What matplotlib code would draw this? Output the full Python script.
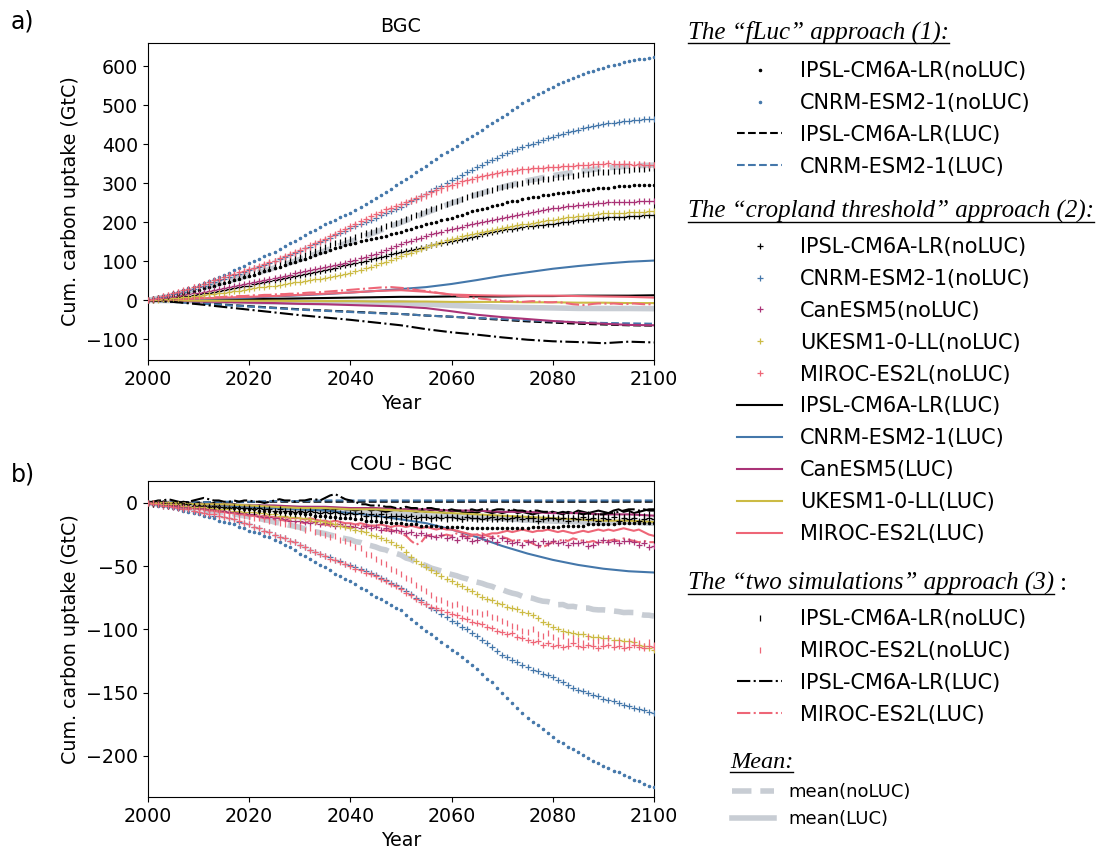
import numpy as np
import matplotlib
matplotlib.use("Agg")
import matplotlib.pyplot as plt
from matplotlib.lines import Line2D
from matplotlib.transforms import IdentityTransform

W, H = 1098, 852
YEARS = list(range(2000, 2101))
YEARS5 = list(range(2000, 2101, 5))

# ---------------- panel a) BGC : noLUC (yearly) ----------------
ipsl_fluc_noluc_bgc = [
    0, 2, 5, 7, 10, 12, 15, 18, 21, 24,
    27, 31, 34, 38, 41, 45, 48, 52, 55, 59,
    62, 66, 70, 74, 78, 82, 86, 90, 95, 99,
    103, 107, 112, 116, 121, 125, 129, 133, 137, 141,
    145, 148, 151, 154, 157, 160, 163, 166, 170, 173,
    176, 180, 184, 188, 191, 195, 198, 202, 205, 209,
    212, 216, 220, 224, 228, 232, 235, 238, 242, 245,
    248, 251, 254, 256, 259, 262, 264, 266, 269, 271,
    273, 275, 276, 278, 279, 281, 282, 284, 285, 287,
    288, 289, 290, 292, 293, 294, 295, 295, 296, 296,
    297]
cnrm_fluc_noluc_bgc = [
    0, 3, 7, 10, 14, 18, 22, 26, 31, 35,
    40, 45, 50, 55, 60, 65, 71, 77, 83, 89,
    95, 101, 107, 113, 119, 125, 132, 139, 146, 153,
    160, 167, 174, 181, 188, 195, 201, 207, 213, 219,
    225, 232, 240, 247, 255, 262, 270, 278, 286, 295,
    303, 311, 320, 328, 337, 345, 354, 363, 372, 380,
    388, 396, 405, 413, 422, 430, 438, 446, 454, 462,
    470, 479, 488, 497, 505, 514, 521, 528, 535, 541,
    548, 554, 559, 565, 570, 575, 580, 585, 589, 593,
    596, 600, 603, 607, 610, 613, 616, 618, 620, 622,
    625]
ipsl_crop_noluc_bgc = [
    0, 1, 3, 4, 6, 7, 9, 11, 12, 14,
    16, 18, 20, 22, 24, 26, 28, 31, 33, 36,
    38, 41, 44, 46, 49, 52, 55, 57, 60, 62,
    65, 68, 70, 73, 75, 78, 81, 84, 87, 90,
    93, 96, 99, 102, 105, 108, 111, 114, 118, 121,
    124, 127, 130, 132, 135, 138, 141, 144, 146, 149,
    152, 155, 158, 160, 163, 166, 169, 172, 174, 177,
    180, 182, 184, 186, 188, 190, 191, 193, 194, 196,
    197, 199, 200, 202, 203, 205, 206, 208, 209, 211,
    212, 213, 214, 214, 215, 216, 217, 217, 218, 218,
    219]
cnrm_crop_noluc_bgc = [
    0, 3, 6, 9, 12, 15, 18, 22, 26, 29,
    33, 37, 42, 46, 51, 55, 59, 64, 68, 73,
    77, 82, 86, 91, 95, 100, 105, 111, 116, 122,
    127, 133, 138, 144, 149, 155, 161, 167, 173, 179,
    185, 190, 196, 201, 207, 212, 218, 223, 229, 234,
    240, 247, 254, 260, 267, 274, 281, 288, 294, 301,
    308, 315, 322, 328, 335, 342, 348, 354, 360, 366,
    372, 377, 383, 388, 393, 398, 402, 407, 411, 416,
    420, 424, 427, 431, 434, 438, 441, 444, 447, 449,
    452, 454, 456, 458, 460, 461, 462, 463, 464, 464,
    465]
can_crop_noluc_bgc = [
    0, 2, 4, 5, 7, 9, 11, 13, 15, 18,
    20, 22, 25, 27, 30, 32, 35, 37, 40, 42,
    45, 48, 50, 53, 55, 58, 61, 63, 66, 69,
    72, 74, 77, 80, 82, 85, 88, 91, 94, 97,
    100, 104, 108, 112, 116, 120, 125, 130, 135, 140,
    145, 149, 153, 157, 161, 165, 169, 172, 176, 180,
    183, 186, 189, 192, 195, 198, 201, 204, 207, 209,
    212, 215, 217, 220, 222, 225, 227, 229, 232, 234,
    236, 238, 239, 241, 242, 244, 245, 246, 248, 249,
    250, 251, 251, 252, 252, 253, 253, 254, 254, 255,
    255]
uk_crop_noluc_bgc = [
    0, 1, 2, 3, 4, 5, 6, 8, 9, 11,
    12, 14, 15, 17, 18, 20, 22, 24, 25, 27,
    29, 31, 33, 34, 36, 38, 40, 42, 44, 46,
    48, 50, 52, 54, 56, 58, 60, 63, 65, 68,
    70, 74, 78, 82, 86, 90, 95, 99, 104, 108,
    113, 118, 122, 127, 131, 136, 141, 145, 150, 154,
    158, 161, 164, 167, 170, 173, 176, 178, 181, 183,
    186, 188, 190, 193, 195, 197, 199, 201, 203, 205,
    207, 209, 211, 213, 214, 216, 217, 219, 220, 222,
    223, 224, 224, 225, 225, 226, 226, 227, 227, 228,
    228]
miroc_crop_noluc_bgc = [
    0, 4, 7, 11, 14, 18, 22, 26, 30, 34,
    38, 42, 47, 51, 56, 60, 64, 68, 72, 76,
    80, 84, 89, 93, 98, 102, 108, 113, 119, 124,
    130, 135, 141, 147, 152, 158, 164, 171, 177, 184,
    190, 196, 203, 209, 216, 222, 227, 233, 238, 243,
    248, 253, 258, 262, 267, 272, 277, 282, 287, 292,
    297, 301, 305, 309, 312, 316, 319, 322, 325, 327,
    330, 332, 333, 335, 336, 338, 339, 340, 340, 341,
    342, 343, 344, 344, 345, 346, 347, 348, 349, 349,
    350, 351, 350, 349, 350, 349, 348, 349, 348, 347,
    347]
ipsl_two_noluc_bgc = [
    0, 3, 6, 9, 12, 15, 19, 22, 26, 29,
    33, 37, 41, 45, 48, 52, 56, 60, 64, 68,
    72, 76, 80, 84, 88, 92, 96, 100, 104, 108,
    112, 117, 122, 127, 132, 137, 141, 146, 150, 154,
    158, 163, 167, 172, 176, 180, 185, 190, 195, 199,
    204, 209, 214, 218, 223, 228, 233, 238, 243, 247,
    252, 256, 260, 265, 269, 273, 276, 280, 283, 287,
    290, 293, 295, 298, 300, 303, 305, 307, 310, 312,
    314, 316, 317, 319, 320, 322, 323, 325, 326, 328,
    329, 330, 331, 333, 334, 335, 336, 337, 338, 339,
    340]
miroc_two_noluc_bgc = [
    0, 3, 7, 10, 14, 17, 21, 25, 29, 33,
    37, 41, 45, 50, 54, 58, 62, 66, 70, 74,
    78, 82, 86, 91, 95, 100, 105, 110, 116, 121,
    127, 132, 138, 143, 149, 155, 161, 167, 174, 180,
    186, 193, 199, 206, 212, 218, 224, 229, 234, 239,
    244, 249, 254, 258, 263, 268, 273, 278, 283, 288,
    293, 297, 301, 305, 309, 312, 316, 319, 321, 324,
    326, 328, 330, 332, 333, 335, 336, 337, 338, 339,
    340, 341, 342, 343, 344, 345, 346, 347, 348, 349,
    349, 350, 351, 350, 351, 350, 349, 350, 349, 348,
    348]

# ---------------- panel a) BGC : LUC ----------------
ipsl_fluc_luc_bgc = [0, -3, -7, -11, -15, -19, -23, -26, -29, -32, -35, -39, -42, -46, -50, -54, -57, -60, -62, -64, -65]
cnrm_fluc_luc_bgc = [0, -4, -8, -12, -16, -20, -24, -27, -30, -33, -35, -39, -42, -45, -48, -51, -54, -56, -58, -59, -60]
ipsl_crop_luc_bgc = [0, 0, 1, 2, 3, 4, 5, 6, 7, 8, 9, 9, 10, 10, 10, 11, 11, 12, 12, 12, 13]
cnrm_crop_luc_bgc = [0, 1, 3, 5, 7, 10, 13, 16, 20, 24, 29, 34, 42, 52, 63, 72, 81, 88, 94, 99, 102]
can_crop_luc_bgc = [0, -1, -3, -4, -6, -7, -9, -10, -12, -14, -16, -20, -28, -37, -43, -48, -53, -57, -60, -63, -64]
uk_crop_luc_bgc = [0, 0, -1, -1, -1, -1, -2, -2, -2, -3, -3, -3, -4, -4, -4, -5, -5, -6, -6, -7, -7]
miroc_crop_luc_bgc = [0, 2, 5, 7, 9, 11, 14, 17, 20, 24, 26, 22, 15, 13, 12, 12, 12, 11, 10, 9, 7]
ipsl_two_luc_bgc = [0, -4, -10, -17, -24, -31, -38, -44, -50, -57, -64, -74, -82, -88, -95, -101, -105, -107, -110, -106, -108]
miroc_two_luc_bgc = [
    0, 1, 1, 2, 3, 3, 4, 4, 5, 6,
    6, 7, 7, 8, 8, 9, 10, 10, 11, 11,
    12, 13, 13, 14, 14, 15, 16, 16, 17, 17,
    18, 19, 20, 20, 21, 22, 23, 24, 25, 26,
    27, 28, 29, 30, 31, 32, 33, 33, 34, 33,
    32, 31, 29, 27, 25, 24, 22, 20, 18, 16,
    14, 12, 10, 9, 7, 6, 4, 3, 1, 0,
    -2, -3, -2, -3, -4, -3, -2, -3, -4, -5,
    -5, -4, -6, -8, -10, -11, -12, -11, -9, -8,
    -8, -9, -8, -9, -10, -9, -8, -9, -10, -10,
    -10]

# ---------------- panel b) COU - BGC : noLUC (yearly) ----------------
ipsl_fluc_noluc_cou = [
    0, 0, 0, -1, -1, -1, -1, -1, -2, -2,
    -2, -2, -3, -3, -3, -4, -4, -4, -4, -5,
    -5, -5, -6, -6, -6, -7, -7, -7, -8, -8,
    -8, -9, -9, -10, -10, -10, -11, -11, -12, -12,
    -12, -13, -13, -14, -14, -14, -15, -15, -16, -16,
    -16, -17, -17, -17, -18, -18, -18, -18, -19, -19,
    -19, -19, -19, -20, -20, -20, -20, -20, -20, -20,
    -20, -20, -20, -20, -20, -20, -19, -19, -19, -19,
    -19, -19, -18, -18, -18, -18, -18, -17, -17, -17,
    -17, -17, -17, -16, -16, -16, -16, -16, -16, -16,
    -16]
cnrm_fluc_noluc_cou = [
    0, -1, -2, -2, -3, -4, -5, -6, -7, -8,
    -9, -10, -11, -12, -14, -15, -16, -17, -19, -20,
    -22, -23, -24, -26, -27, -29, -31, -33, -35, -37,
    -40, -42, -44, -47, -49, -51, -53, -56, -58, -60,
    -62, -64, -67, -69, -72, -74, -76, -78, -81, -83,
    -85, -89, -92, -95, -98, -101, -104, -107, -110, -113,
    -116, -119, -122, -125, -128, -131, -135, -139, -142, -146,
    -150, -154, -158, -162, -166, -170, -173, -176, -179, -182,
    -185, -188, -190, -193, -195, -197, -199, -202, -204, -206,
    -208, -210, -212, -213, -215, -217, -219, -220, -222, -224,
    -225]
ipsl_crop_noluc_cou = [
    0, 0, -1, 0, -1, -1, -1, -2, -1, -2,
    -2, -2, -3, -2, -3, -3, -4, -3, -4, -4,
    -4, -5, -4, -5, -5, -6, -5, -6, -6, -7,
    -6, -7, -6, -7, -8, -7, -8, -7, -8, -9,
    -8, -9, -8, -10, -9, -10, -9, -11, -10, -10,
    -10, -11, -10, -12, -11, -11, -12, -11, -12, -11,
    -11, -12, -13, -11, -12, -12, -13, -12, -11, -13,
    -12, -13, -12, -11, -13, -12, -12, -14, -13, -12,
    -12, -13, -12, -14, -12, -13, -11, -13, -12, -14,
    -12, -13, -11, -14, -12, -13, -12, -14, -13, -12,
    -13]
cnrm_crop_noluc_cou = [
    0, -1, -1, -2, -2, -3, -4, -5, -5, -6,
    -7, -8, -9, -10, -10, -11, -12, -13, -15, -16,
    -17, -19, -20, -22, -23, -25, -27, -28, -30, -31,
    -33, -35, -37, -39, -40, -42, -43, -45, -46, -48,
    -49, -51, -52, -54, -55, -57, -59, -61, -63, -65,
    -67, -70, -72, -75, -77, -80, -83, -85, -88, -90,
    -93, -95, -98, -100, -103, -105, -108, -111, -114, -117,
    -120, -122, -124, -126, -128, -130, -132, -133, -135, -136,
    -138, -140, -142, -144, -146, -148, -149, -150, -152, -153,
    -155, -156, -157, -158, -160, -161, -162, -163, -164, -165,
    -166]
can_crop_noluc_cou = [
    0, 0, -1, -1, -1, -2, -2, -3, -3, -3,
    -4, -4, -5, -5, -5, -6, -7, -7, -8, -8,
    -9, -9, -10, -11, -11, -12, -12, -13, -14, -14,
    -14, -15, -16, -15, -17, -16, -17, -18, -17, -18,
    -18, -19, -20, -18, -20, -19, -21, -20, -22, -21,
    -22, -24, -23, -25, -24, -25, -26, -27, -25, -28,
    -27, -29, -26, -28, -30, -29, -27, -30, -28, -31,
    -28, -30, -32, -31, -33, -31, -30, -33, -30, -32,
    -30, -32, -31, -33, -32, -32, -31, -34, -33, -31,
    -29, -31, -30, -32, -30, -30, -31, -33, -32, -35,
    -34]
uk_crop_noluc_cou = [
    0, 0, 0, -1, -1, -1, -1, -2, -2, -3,
    -3, -3, -4, -4, -5, -5, -5, -6, -6, -7,
    -7, -7, -8, -8, -9, -9, -10, -10, -11, -11,
    -12, -12, -13, -14, -14, -15, -16, -17, -18, -19,
    -20, -21, -22, -23, -25, -26, -28, -29, -31, -33,
    -35, -39, -43, -46, -48, -51, -53, -55, -58, -60,
    -62, -64, -66, -68, -70, -72, -74, -76, -77, -79,
    -80, -82, -83, -84, -86, -87, -89, -91, -94, -96,
    -98, -100, -101, -102, -103, -104, -104, -105, -106, -106,
    -107, -107, -108, -108, -109, -109, -110, -112, -113, -115,
    -116]
miroc_crop_noluc_cou = [
    0, -1, -1, -2, -2, -3, -4, -5, -5, -6,
    -7, -8, -9, -9, -10, -11, -12, -13, -14, -16,
    -17, -19, -20, -22, -23, -25, -27, -28, -30, -31,
    -33, -35, -37, -39, -40, -42, -44, -45, -47, -48,
    -50, -52, -53, -55, -56, -58, -60, -62, -64, -66,
    -68, -71, -73, -76, -78, -80, -82, -83, -85, -86,
    -88, -89, -91, -92, -94, -95, -96, -98, -99, -101,
    -102, -104, -103, -106, -107, -108, -110, -109, -112, -111,
    -113, -112, -114, -113, -111, -113, -114, -112, -113, -115,
    -113, -112, -114, -113, -115, -114, -112, -114, -115, -113,
    -114]
ipsl_two_noluc_cou = [
    0, -1, 0, -1, -2, -1, -2, -2, -3, -2,
    -3, -4, -3, -4, -5, -4, -5, -5, -6, -5,
    -6, -7, -6, -7, -7, -8, -7, -8, -8, -9,
    -8, -9, -8, -10, -9, -10, -9, -11, -10, -10,
    -10, -11, -10, -12, -11, -11, -12, -10, -12, -11,
    -11, -12, -11, -13, -12, -11, -13, -12, -11, -13,
    -12, -11, -13, -12, -12, -13, -11, -12, -13, -12,
    -12, -11, -13, -12, -11, -12, -13, -11, -12, -11,
    -11, -12, -10, -11, -12, -10, -11, -9, -11, -10,
    -10, -11, -9, -10, -11, -9, -10, -8, -10, -9,
    -9]
miroc_two_noluc_cou = [
    0, 0, -1, -1, -2, -2, -3, -3, -4, -4,
    -5, -5, -6, -7, -7, -8, -8, -9, -10, -10,
    -11, -12, -12, -13, -14, -15, -16, -17, -17, -18,
    -19, -21, -20, -23, -24, -25, -27, -26, -29, -30,
    -32, -35, -36, -40, -41, -44, -47, -48, -52, -54,
    -56, -59, -61, -65, -67, -70, -73, -76, -77, -79,
    -81, -80, -83, -84, -86, -86, -88, -87, -90, -91,
    -93, -95, -97, -98, -101, -102, -100, -104, -105, -103,
    -106, -108, -105, -109, -107, -108, -111, -106, -110, -109,
    -110, -107, -111, -109, -112, -110, -108, -111, -113, -110,
    -112]

# ---------------- panel b) COU - BGC : LUC ----------------
ipsl_fluc_luc_cou = [0, 0.3, 0.5, 0.7, 0.8, 1, 1, 1, 1, 1, 1, 1, 1, 1, 1, 1, 1, 1, 1, 1, 1]
cnrm_fluc_luc_cou = [0, 0.5, 0.5, 1, 1, 1.5, 1.5, 2, 2, 2, 2, 2, 2, 2, 2, 2, 2, 2, 2, 2, 2]
ipsl_crop_luc_cou = [
    0, 1, 0, 1, 0, -1, 0, 1, 0, -1,
    0, -1, -1, 0, -2, -1, -2, -1, -2, -3,
    -2, -3, -2, -3, -4, -3, -4, -3, -4, -5,
    -4, -5, -4, -5, -4, -5, -6, -5, -4, -5,
    -5, -6, -5, -4, -6, -5, -6, -7, -6, -5,
    -6, -5, -6, -7, -6, -7, -6, -5, -7, -8,
    -7, -6, -7, -8, -7, -8, -6, -7, -8, -7,
    -8, -7, -6, -8, -7, -8, -9, -8, -7, -8,
    -7, -8, -9, -7, -8, -6, -7, -8, -7, -6,
    -7, -8, -6, -5, -7, -6, -8, -7, -6, -5,
    -5]
cnrm_crop_luc_cou = [0, 0, -1, -2, -3, -4, -5, -6, -8, -10, -13, -16, -21, -27, -34, -40, -45, -49, -52, -54, -55]
can_crop_luc_cou = [0, 0, -1, -1, -2, -2, -3, -3, -4, -4, -5, -5, -6, -6, -7, -7, -8, -8, -9, -9, -10]
uk_crop_luc_cou = [0, 0, -1, -1, -2, -3, -4, -4, -5, -5, -6, -7, -8, -9, -10, -11, -12, -13, -14, -14, -15]
miroc_crop_luc_cou = [
    0, 0, -1, -1, -2, -2, -3, -3, -4, -4,
    -5, -5, -6, -6, -7, -7, -8, -8, -9, -9,
    -10, -10, -11, -10, -11, -11, -12, -11, -12, -12,
    -12, -13, -12, -13, -14, -14, -15, -14, -15, -16,
    -16, -17, -16, -17, -18, -18, -17, -18, -19, -18,
    -18, -19, -18, -19, -20, -19, -20, -21, -20, -21,
    -21, -22, -23, -24, -25, -25, -26, -25, -24, -24,
    -23, -22, -23, -22, -21, -22, -23, -22, -22, -21,
    -22, -23, -22, -23, -24, -23, -22, -23, -22, -21,
    -22, -21, -22, -21, -20, -21, -22, -21, -23, -25,
    -26]
ipsl_two_luc_cou = [
    0, 1, 2, 2, 3, 2, 1, 0, 1, 2,
    3, 4, 3, 2, 2, 1, 1, 2, 1, 2,
    2, 1, 1, 0, 1, 2, 3, 2, 2, 1,
    2, 2, 3, 3, 2, 4, 6, 7, 5, 3,
    2, 1, -1, -1, -2, -2, -2, -3, -3, -4,
    -4, -3, -4, -4, -5, -4, -4, -5, -5, -6,
    -5, -6, -6, -6, -5, -6, -5, -5, -6, -5,
    -5, -6, -5, -6, -6, -7, -6, -6, -7, -7,
    -7, -8, -7, -8, -8, -8, -9, -8, -9, -9,
    -9, -8, -8, -7, -6, -5, -5, -6, -5, -6,
    -6]
miroc_two_luc_cou = [
    0, 0, -1, -1, -2, -2, -3, -3, -4, -4,
    -4, -5, -5, -6, -6, -7, -7, -8, -8, -9,
    -10, -10, -11, -12, -12, -13, -13, -14, -14, -15,
    -15, -16, -14, -16, -17, -17, -18, -16, -18, -19,
    -20, -18, -17, -19, -18, -18, -20, -22, -21, -23,
    -24, -26, -30, -33, -31, -26, -25, -27, -26, -25,
    -26, -24, -25, -27, -26, -25, -24, -26, -27, -26,
    -27, -28, -30, -29, -30, -30, -32, -34, -35, -33,
    -31, -30, -29, -30, -28, -29, -30, -31, -30, -32,
    -31, -30, -29, -30, -28, -29, -30, -31, -30, -31,
    -31]

MODEL_LABELS = {"ipsl": "IPSL-CM6A-LR", "cnrm": "CNRM-ESM2-1", "can": "CanESM5",
                "uk": "UKESM1-0-LL", "miroc": "MIROC-ES2L"}
COLORS = {"ipsl": "#000000", "cnrm": "#4477aa", "can": "#aa3377",
          "uk": "#ccbb44", "miroc": "#ee6677"}
GREY = "#c8cdd4"

NOLUC = {
    "bgc": {("fluc", "ipsl"): ipsl_fluc_noluc_bgc, ("fluc", "cnrm"): cnrm_fluc_noluc_bgc,
            ("crop", "ipsl"): ipsl_crop_noluc_bgc, ("crop", "cnrm"): cnrm_crop_noluc_bgc,
            ("crop", "can"): can_crop_noluc_bgc, ("crop", "uk"): uk_crop_noluc_bgc,
            ("crop", "miroc"): miroc_crop_noluc_bgc,
            ("two", "ipsl"): ipsl_two_noluc_bgc, ("two", "miroc"): miroc_two_noluc_bgc},
    "cou": {("fluc", "ipsl"): ipsl_fluc_noluc_cou, ("fluc", "cnrm"): cnrm_fluc_noluc_cou,
            ("crop", "ipsl"): ipsl_crop_noluc_cou, ("crop", "cnrm"): cnrm_crop_noluc_cou,
            ("crop", "can"): can_crop_noluc_cou, ("crop", "uk"): uk_crop_noluc_cou,
            ("crop", "miroc"): miroc_crop_noluc_cou,
            ("two", "ipsl"): ipsl_two_noluc_cou, ("two", "miroc"): miroc_two_noluc_cou},
}
LUC = {
    "bgc": {("fluc", "ipsl"): ipsl_fluc_luc_bgc, ("fluc", "cnrm"): cnrm_fluc_luc_bgc,
            ("crop", "ipsl"): ipsl_crop_luc_bgc, ("crop", "cnrm"): cnrm_crop_luc_bgc,
            ("crop", "can"): can_crop_luc_bgc, ("crop", "uk"): uk_crop_luc_bgc,
            ("crop", "miroc"): miroc_crop_luc_bgc,
            ("two", "ipsl"): ipsl_two_luc_bgc, ("two", "miroc"): miroc_two_luc_bgc},
    "cou": {("fluc", "ipsl"): ipsl_fluc_luc_cou, ("fluc", "cnrm"): cnrm_fluc_luc_cou,
            ("crop", "ipsl"): ipsl_crop_luc_cou, ("crop", "cnrm"): cnrm_crop_luc_cou,
            ("crop", "can"): can_crop_luc_cou, ("crop", "uk"): uk_crop_luc_cou,
            ("crop", "miroc"): miroc_crop_luc_cou,
            ("two", "ipsl"): ipsl_two_luc_cou, ("two", "miroc"): miroc_two_luc_cou},
}
for grp in (NOLUC, LUC):
    for pk, dd in grp.items():
        for k, v in dd.items():
            if len(v) not in (21, 101):
                raise ValueError(f"bad length {pk} {k}: {len(v)}")

MARKERS = {"fluc": dict(marker=".", ms=3.5, mew=0.8),
           "crop": dict(marker="+", ms=4, mew=0.9),
           "two": dict(marker="|", ms=5, mew=0.9)}
LSTYLES = {"fluc": "--", "crop": "-", "two": "-."}

def xs(v):
    return YEARS if len(v) == 101 else YEARS5

def five(v):
    return np.asarray(v, float)[::5] if len(v) == 101 else np.asarray(v, float)

plt.rcParams["font.family"] = ["DejaVu Sans"]
fig = plt.figure(figsize=(W / 100, H / 100), dpi=100)
ax1 = fig.add_axes([148 / W, 1 - 360 / H, 506 / W, 317 / H])
ax2 = fig.add_axes([148 / W, 1 - 797 / H, 506 / W, 316 / H])

handles = {}
for ax, pk, title, ylim, yt in [(ax1, "bgc", "BGC", (-153, 660), range(-100, 601, 100)),
                                (ax2, "cou", "COU - BGC", (-232.6, 17.4), range(-200, 1, 50))]:
    nol = NOLUC[pk]
    luc = LUC[pk]
    mean_nol = np.mean([np.asarray(v, float) for v in nol.values()], axis=0)
    mean_luc = np.mean([five(v) for v in luc.values()], axis=0)
    h_mn, = ax.plot(YEARS, mean_nol, color=GREY, lw=4, dashes=(3.5, 1.6), zorder=1)
    h_ml, = ax.plot(YEARS5, mean_luc, color=GREY, lw=4, zorder=1)
    if pk == "bgc":
        handles[("mean", "noluc")] = h_mn
        handles[("mean", "luc")] = h_ml
    for (app, mod), v in nol.items():
        h, = ax.plot(YEARS, v, ls="none", color=COLORS[mod], zorder=3, **MARKERS[app])
        if pk == "bgc":
            handles[(app, mod, "noluc")] = h
    for (app, mod), v in luc.items():
        h, = ax.plot(xs(v), v, ls=LSTYLES[app], color=COLORS[mod], lw=1.5, zorder=2)
        if pk == "bgc":
            handles[(app, mod, "luc")] = h
    ax.set_xlim(2000, 2100)
    ax.set_ylim(*ylim)
    ax.set_xticks(range(2000, 2101, 20))
    ax.set_yticks(list(yt))
    ax.tick_params(labelsize=13.7)
    ax.set_title(title, fontsize=13.7, pad=8)
    ax.set_xlabel("Year", fontsize=13.7)
    ax.set_ylabel("Cum. carbon uptake (GtC)", fontsize=13.7)

fig.text(11 / W, 1 - 22 / H, "a)", fontsize=17, va="center", ha="left")
fig.text(11 / W, 1 - 474 / H, "b)", fontsize=17, va="center", ha="left")

# ---------------- legends ----------------
def make_legend(entries, x, y, fs, hl, htp, ls):
    hs = [handles[e] for e in entries]
    labs = []
    for e in entries:
        if e[0] == "mean":
            labs.append("mean(noLUC)" if e[1] == "noluc" else "mean(LUC)")
        else:
            labs.append(f"{MODEL_LABELS[e[1]]}({'noLUC' if e[2] == 'noluc' else 'LUC'})")
    leg = fig.legend(hs, labs, loc="upper left", bbox_to_anchor=(x / W, 1 - y / H),
                     bbox_transform=fig.transFigure, frameon=False, borderpad=0,
                     borderaxespad=0, fontsize=fs, handlelength=hl, handletextpad=htp,
                     labelspacing=ls, numpoints=1)
    return leg

make_legend([("fluc", "ipsl", "noluc"), ("fluc", "cnrm", "noluc"),
             ("fluc", "ipsl", "luc"), ("fluc", "cnrm", "luc")],
            737, 61, 15, 2.16, 0.87, 0.57)
make_legend([("crop", m, "noluc") for m in ["ipsl", "cnrm", "can", "uk", "miroc"]] +
            [("crop", m, "luc") for m in ["ipsl", "cnrm", "can", "uk", "miroc"]],
            737, 237, 15, 2.16, 0.87, 0.57)
make_legend([("two", "ipsl", "noluc"), ("two", "miroc", "noluc"),
             ("two", "ipsl", "luc"), ("two", "miroc", "luc")],
            737, 609, 15, 2.16, 0.87, 0.57)
make_legend([("mean", "noluc"), ("mean", "luc")], 732, 783, 13, 2.33, 0.78, 0.49)

# ---------------- section headers ----------------
serif = dict(family="Liberation Serif", style="italic", va="baseline", ha="left")
hdrs = []
hdrs.append((fig.text(688 / W, 1 - 39 / H, "The \u201cfLuc\u201d approach (1):", fontsize=18, **serif), 43))
hdrs.append((fig.text(688 / W, 1 - 218 / H, "The \u201ccropland threshold\u201d approach (2):", fontsize=18, **serif), 222))
t3 = fig.text(688 / W, 1 - 590 / H, "The \u201ctwo simulations\u201d approach (3)", fontsize=18, **serif)
hdrs.append((t3, 594))
hdrs.append((fig.text(730 / W, 1 - 768 / H, "Mean:", fontsize=17.5, **serif), 772))

fig.canvas.draw()
r = fig.canvas.get_renderer()
for t, uy in hdrs:
    bb = t.get_window_extent(r)
    fig.add_artist(Line2D([bb.x0, bb.x1], [H - uy, H - uy], transform=IdentityTransform(),
                          color="black", lw=1.0))
bb3 = t3.get_window_extent(r)
fig.text((bb3.x1 + 6) / W, 1 - 590 / H, ":", fontsize=18, family="Liberation Serif",
         va="baseline", ha="left")

fig.savefig("out.png", dpi=100)
